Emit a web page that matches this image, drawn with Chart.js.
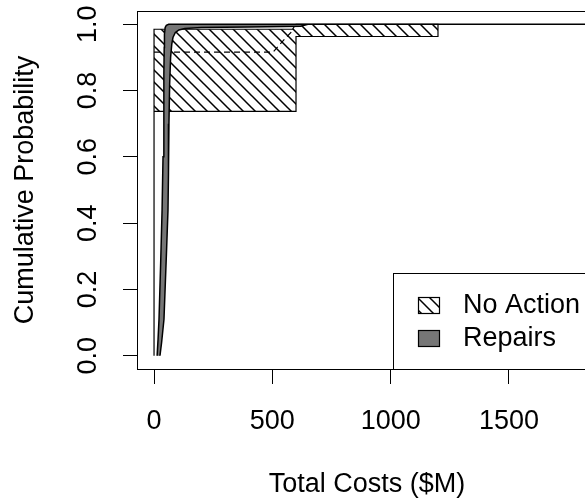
<!DOCTYPE html>
<html>
<head>
<meta charset="utf-8">
<script src="https://cdn.jsdelivr.net/npm/chart.js@4/dist/chart.umd.min.js"></script>
<style>
  html, body { margin: 0; padding: 0; overflow: hidden; background: #fff; width: 585px; height: 503px; }
  canvas { display: block; }
</style>
</head>
<body>
<canvas id="cdf" width="620" height="503"></canvas>
<script>
// P-box bounds as [total cost ($M), cumulative probability].
// "No Action": left (upper) CDF bound, traced upwards, then right (lower) bound traced back down.
const noActionLeft  = [[0, 0], [0, 0.985], [585, 0.985], [600, 1], [1200, 1]];
const noActionRight = [[1200, 0.963], [600, 0.963], [600, 0.737], [0, 0.737], [0, 0]];
// Dashed central estimate for "No Action".
const noActionMid   = [[0, 0.916], [503, 0.916], [545, 0.95], [589, 0.983]];
// "Repairs": narrow band rising steeply near zero cost.
const repairsLeft  = [[13, 0], [17, 0.05], [21, 0.11], [28, 0.28], [34, 0.44], [38, 0.6], [41, 0.75],
                      [42, 0.85], [43, 0.93], [44, 0.97], [47, 0.99], [52, 0.997], [62, 1], [1900, 1]];
const repairsRight = [[650, 1], [620, 0.994], [400, 0.992], [200, 0.99], [130, 0.987], [105, 0.983],
                      [90, 0.975], [80, 0.96], [75, 0.94], [70, 0.9], [66, 0.82], [63, 0.7], [61, 0.55],
                      [59, 0.44], [52, 0.3], [42, 0.11], [32, 0.04], [25, 0]];

const costTicks = [0, 500, 1000, 1500];
const probTicks = [0, 0.2, 0.4, 0.6, 0.8, 1.0];
const legendLabels = ['No Action', 'Repairs'];

// Axis limits: data range 0..1800 and 0..1 padded by 4% on each side.
const xMin = -72, xMax = 1872;
const yMin = -0.04, yMax = 1.04;

const FONT = "'Liberation Sans', Arial, Helvetica, sans-serif";
const FONT_SIZE = 27;
const REPAIR_GRAY = '#767676';

// Diagonal hatching (top-left to bottom-right), transparent between lines.
function makeHatch() {
  const t = document.createElement('canvas');
  t.width = 12; t.height = 12;
  const c = t.getContext('2d');
  c.strokeStyle = '#000';
  c.lineWidth = 1.5;
  c.beginPath();
  for (const k of [-12, 0, 12]) {
    c.moveTo(k - 1, -1);
    c.lineTo(k + 13, 13);
  }
  c.stroke();
  return c.createPattern(t, 'repeat');
}

const canvas = document.getElementById('cdf');
const ctx = canvas.getContext('2d');
const hatch = makeHatch();

const toXY = pts => pts.map(([x, y]) => ({ x, y }));

// Fixed scale sizes; no extra edge padding for the end tick labels.
const fixSize = (w, h) => s => {
  if (w) s.width = w;
  if (h) s.height = h;
  s.paddingTop = 0; s.paddingBottom = 0; s.paddingLeft = 0; s.paddingRight = 0;
};

// Plot frame and the boxed legend in the lower-right corner of the plot.
const framePlugin = {
  id: 'frameAndLegend',
  afterDraw(chart) {
    const { ctx: g, chartArea: a } = chart;
    g.save();
    g.strokeStyle = '#000';
    g.lineWidth = 1;
    g.strokeRect(Math.round(a.left) + 0.5, Math.round(a.top) + 0.5,
                 Math.round(a.right - a.left), Math.round(a.bottom - a.top));

    const bx = a.right - 204, by = a.bottom - 96;
    g.fillStyle = '#fff';
    g.fillRect(bx, by, a.right - bx, a.bottom - by);
    g.strokeRect(Math.round(bx) + 0.5, Math.round(by) + 0.5, Math.round(a.right - bx), Math.round(a.bottom - by));

    const swX = bx + 25, swW = 21, swH = 16;
    const rows = [by + 32, by + 65];
    const fills = [hatch, REPAIR_GRAY];
    g.font = FONT_SIZE + 'px ' + FONT;
    g.textBaseline = 'middle';
    g.textAlign = 'left';
    rows.forEach((cy, i) => {
      g.fillStyle = fills[i];
      g.fillRect(swX, cy - swH / 2, swW, swH);
      g.strokeStyle = '#000';
      g.lineWidth = 1.2;
      g.strokeRect(swX + 0.5, Math.round(cy - swH / 2) + 0.5, swW, swH);
      g.fillStyle = '#000';
      g.fillText(legendLabels[i], bx + 70, cy + 1);
    });
    g.restore();
  }
};

new Chart(ctx, {
  type: 'scatter',
  data: {
    datasets: [
      {
        label: 'Repairs',
        data: toXY(repairsLeft.concat(repairsRight)),
        showLine: true, fill: 'shape', tension: 0,
        backgroundColor: REPAIR_GRAY, borderColor: '#000', borderWidth: 1.5,
        pointRadius: 0, order: 0
      },
      {
        label: 'No Action (central)',
        data: toXY(noActionMid),
        showLine: true, fill: false, tension: 0,
        borderColor: '#000', borderWidth: 1.2, borderDash: [6, 4],
        pointRadius: 0, order: 1
      },
      {
        label: 'No Action',
        data: toXY(noActionLeft.concat(noActionRight)),
        showLine: true, fill: 'shape', tension: 0,
        backgroundColor: hatch, borderColor: '#000', borderWidth: 1.2,
        pointRadius: 0, order: 2
      }
    ]
  },
  options: {
    responsive: false,
    animation: false,
    events: [],
    layout: { padding: { top: 11, right: 23, left: 0, bottom: 0 } },
    plugins: { legend: { display: false }, tooltip: { enabled: false } },
    scales: {
      x: {
        type: 'linear', position: 'bottom', min: xMin, max: xMax,
        afterBuildTicks: s => { s.ticks = costTicks.map(v => ({ value: v })); },
        afterFit: fixSize(0, 134),
        grid: { display: true, drawOnChartArea: false, drawTicks: true, tickLength: 15, color: '#000', lineWidth: 1 },
        border: { display: true, color: '#000', width: 1 },
        ticks: {
          font: { family: FONT, size: FONT_SIZE }, color: '#000', padding: 21,
          minRotation: 0, maxRotation: 0, autoSkip: false,
          callback: v => String(v)
        },
        title: {
          display: true, text: 'Total Costs ($M)', color: '#000',
          font: { family: FONT, size: FONT_SIZE }, padding: { top: 0, bottom: 2 }
        }
      },
      y: {
        type: 'linear', position: 'left', min: yMin, max: yMax,
        afterBuildTicks: s => { s.ticks = probTicks.map(v => ({ value: v })); },
        afterFit: fixSize(137, 0),
        grid: { display: true, drawOnChartArea: false, drawTicks: true, tickLength: 14, color: '#000', lineWidth: 1 },
        border: { display: true, color: '#000', width: 1 },
        ticks: {
          font: { family: FONT, size: FONT_SIZE }, color: '#000', padding: 16,
          minRotation: 90, maxRotation: 90, crossAlign: 'center', autoSkip: false,
          callback: v => Number(v).toFixed(1)
        },
        title: {
          display: true, text: 'Cumulative Probability', color: '#000',
          font: { family: FONT, size: FONT_SIZE }, padding: { top: 9, bottom: 0 }
        }
      }
    }
  },
  plugins: [framePlugin]
});
</script>
</body>
</html>
